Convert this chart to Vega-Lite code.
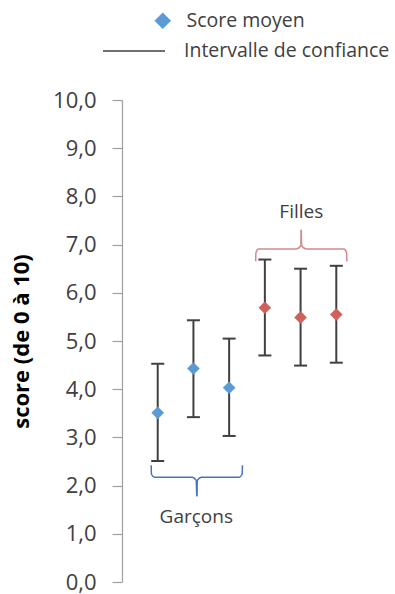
{
  "$schema": "https://vega.github.io/schema/vega-lite/v6.json",
  "width": 250,
  "height": 482,
  "autosize": "none",
  "padding": {"left": 122, "top": 100, "right": 23, "bottom": 12},
  "background": "white",
  "config": {"view": {"stroke": null}, "font": "Open Sans"},
  "datasets": {
    "scores": [
      {"groupe": 1, "sexe": "Garçons", "moyenne": 3.51, "bas": 2.51, "haut": 4.53},
      {"groupe": 2, "sexe": "Garçons", "moyenne": 4.43, "bas": 3.42, "haut": 5.43},
      {"groupe": 3, "sexe": "Garçons", "moyenne": 4.03, "bas": 3.03, "haut": 5.05},
      {"groupe": 4, "sexe": "Filles", "moyenne": 5.69, "bas": 4.70, "haut": 6.69},
      {"groupe": 5, "sexe": "Filles", "moyenne": 5.49, "bas": 4.49, "haut": 6.50},
      {"groupe": 6, "sexe": "Filles", "moyenne": 5.55, "bas": 4.55, "haut": 6.56}
    ],
    "accolades": [
      {"sexe": "Garçons", "partie": "g1", "ordre": 1, "x": 0.817, "y": 2.422},
      {"sexe": "Garçons", "partie": "g1", "ordre": 2, "x": 0.825, "y": 2.236},
      {"sexe": "Garçons", "partie": "g1", "ordre": 3, "x": 0.908, "y": 2.174},
      {"sexe": "Garçons", "partie": "g1", "ordre": 4, "x": 1.964, "y": 2.174},
      {"sexe": "Garçons", "partie": "g1", "ordre": 5, "x": 2.075, "y": 2.112},
      {"sexe": "Garçons", "partie": "g1", "ordre": 6, "x": 2.094, "y": 1.781},
      {"sexe": "Garçons", "partie": "g2", "ordre": 1, "x": 3.372, "y": 2.422},
      {"sexe": "Garçons", "partie": "g2", "ordre": 2, "x": 3.364, "y": 2.236},
      {"sexe": "Garçons", "partie": "g2", "ordre": 3, "x": 3.281, "y": 2.174},
      {"sexe": "Garçons", "partie": "g2", "ordre": 4, "x": 2.225, "y": 2.174},
      {"sexe": "Garçons", "partie": "g2", "ordre": 5, "x": 2.114, "y": 2.112},
      {"sexe": "Garçons", "partie": "g2", "ordre": 6, "x": 2.094, "y": 1.781},
      {"sexe": "Filles", "partie": "f1", "ordre": 1, "x": 3.742, "y": 6.652},
      {"sexe": "Filles", "partie": "f1", "ordre": 2, "x": 3.75, "y": 6.832},
      {"sexe": "Filles", "partie": "f1", "ordre": 3, "x": 3.825, "y": 6.909},
      {"sexe": "Filles", "partie": "f1", "ordre": 4, "x": 4.881, "y": 6.909},
      {"sexe": "Filles", "partie": "f1", "ordre": 5, "x": 5.006, "y": 6.977},
      {"sexe": "Filles", "partie": "f1", "ordre": 6, "x": 5.019, "y": 7.308},
      {"sexe": "Filles", "partie": "f2", "ordre": 1, "x": 6.297, "y": 6.652},
      {"sexe": "Filles", "partie": "f2", "ordre": 2, "x": 6.289, "y": 6.832},
      {"sexe": "Filles", "partie": "f2", "ordre": 3, "x": 6.214, "y": 6.909},
      {"sexe": "Filles", "partie": "f2", "ordre": 4, "x": 5.158, "y": 6.909},
      {"sexe": "Filles", "partie": "f2", "ordre": 5, "x": 5.033, "y": 6.977},
      {"sexe": "Filles", "partie": "f2", "ordre": 6, "x": 5.019, "y": 7.308}
    ],
    "etiquettes": [
      {"texte": "Garçons", "x": 2.08, "y": 1.35},
      {"texte": "Filles", "x": 5.02, "y": 7.68}
    ]
  },
  "layer": [
    {
      "data": {"name": "scores"},
      "mark": {"type": "rule", "color": "#404040", "strokeWidth": 2},
      "encoding": {
        "x": {"field": "groupe", "type": "quantitative", "scale": {"domain": [0.08, 7]}, "axis": null},
        "y": {
          "field": "bas", "type": "quantitative",
          "scale": {"domain": [0, 10], "nice": false},
          "axis": {
            "title": "score (de 0 à 10)",
            "values": [0, 1, 2, 3, 4, 5, 6, 7, 8, 9, 10],
            "labelExpr": "replace(format(datum.value, '.1f'), '.', ',')",
            "grid": false,
            "titleFont": "Open Sans", "titleFontWeight": "bold", "titleFontSize": 22, "titleColor": "#000000", "titleX": -89,
            "labelFont": "Open Sans", "labelFontSize": 22, "labelColor": "#404040", "labelPadding": 16,
            "tickSize": 10, "tickColor": "#A0A0A0", "domainColor": "#A0A0A0", "tickWidth": 1.2, "domainWidth": 1.2
          }
        },
        "y2": {"field": "haut"},
        "strokeDash": {
          "datum": "Intervalle de confiance", "type": "nominal",
          "scale": {"domain": ["Intervalle de confiance"], "range": [[1, 0]]},
          "legend": {
            "orient": "none", "legendX": -20, "legendY": -81, "title": null,
            "symbolSize": 3844, "symbolType": "stroke", "symbolStrokeColor": "#404040", "symbolStrokeWidth": 1.3,
            "labelFont": "Open Sans", "labelFontSize": 19.5, "labelColor": "#404040",
            "labelOffset": 18, "labelLimit": 400
          }
        }
      }
    },
    {
      "data": {"name": "scores"},
      "mark": {"type": "tick", "orient": "horizontal", "color": "#404040", "size": 13, "thickness": 2, "opacity": 1},
      "encoding": {
        "x": {"field": "groupe", "type": "quantitative"},
        "y": {"field": "bas", "type": "quantitative"}
      }
    },
    {
      "data": {"name": "scores"},
      "mark": {"type": "tick", "orient": "horizontal", "color": "#404040", "size": 13, "thickness": 2, "opacity": 1},
      "encoding": {
        "x": {"field": "groupe", "type": "quantitative"},
        "y": {"field": "haut", "type": "quantitative"}
      }
    },
    {
      "data": {"name": "accolades"},
      "mark": {"type": "line", "strokeWidth": 1.5, "interpolate": "monotone"},
      "encoding": {
        "x": {"field": "x", "type": "quantitative"},
        "y": {"field": "y", "type": "quantitative"},
        "detail": {"field": "partie"},
        "order": {"field": "ordre"},
        "stroke": {"field": "sexe", "type": "nominal", "scale": {"domain": ["Garçons", "Filles"], "range": ["#4472C4", "#D08A8C"]}, "legend": null}
      }
    },
    {
      "data": {"name": "scores"},
      "mark": {"type": "point", "filled": true, "size": 160, "opacity": 1},
      "encoding": {
        "x": {"field": "groupe", "type": "quantitative"},
        "y": {"field": "moyenne", "type": "quantitative"},
        "color": {"field": "sexe", "type": "nominal", "scale": {"domain": ["Garçons", "Filles"], "range": ["#5B9BD5", "#D0605B"]}, "legend": null},
        "shape": {
          "datum": "Score moyen", "type": "nominal",
          "scale": {"domain": ["Score moyen"], "range": ["diamond"]},
          "legend": {
            "orient": "none", "legendX": 31, "legendY": -89, "title": null,
            "symbolSize": 256, "symbolFillColor": "#5B9BD5", "symbolStrokeColor": "#5B9BD5", "symbolStrokeWidth": 0.5,
            "labelFont": "Open Sans", "labelFontSize": 19.5, "labelColor": "#404040",
            "labelOffset": 14, "labelLimit": 400
          }
        }
      }
    },
    {
      "data": {"name": "etiquettes"},
      "mark": {"type": "text", "font": "Open Sans", "fontSize": 19, "color": "#404040", "baseline": "middle", "align": "center"},
      "encoding": {
        "x": {"field": "x", "type": "quantitative"},
        "y": {"field": "y", "type": "quantitative"},
        "text": {"field": "texte"}
      }
    }
  ]
}
